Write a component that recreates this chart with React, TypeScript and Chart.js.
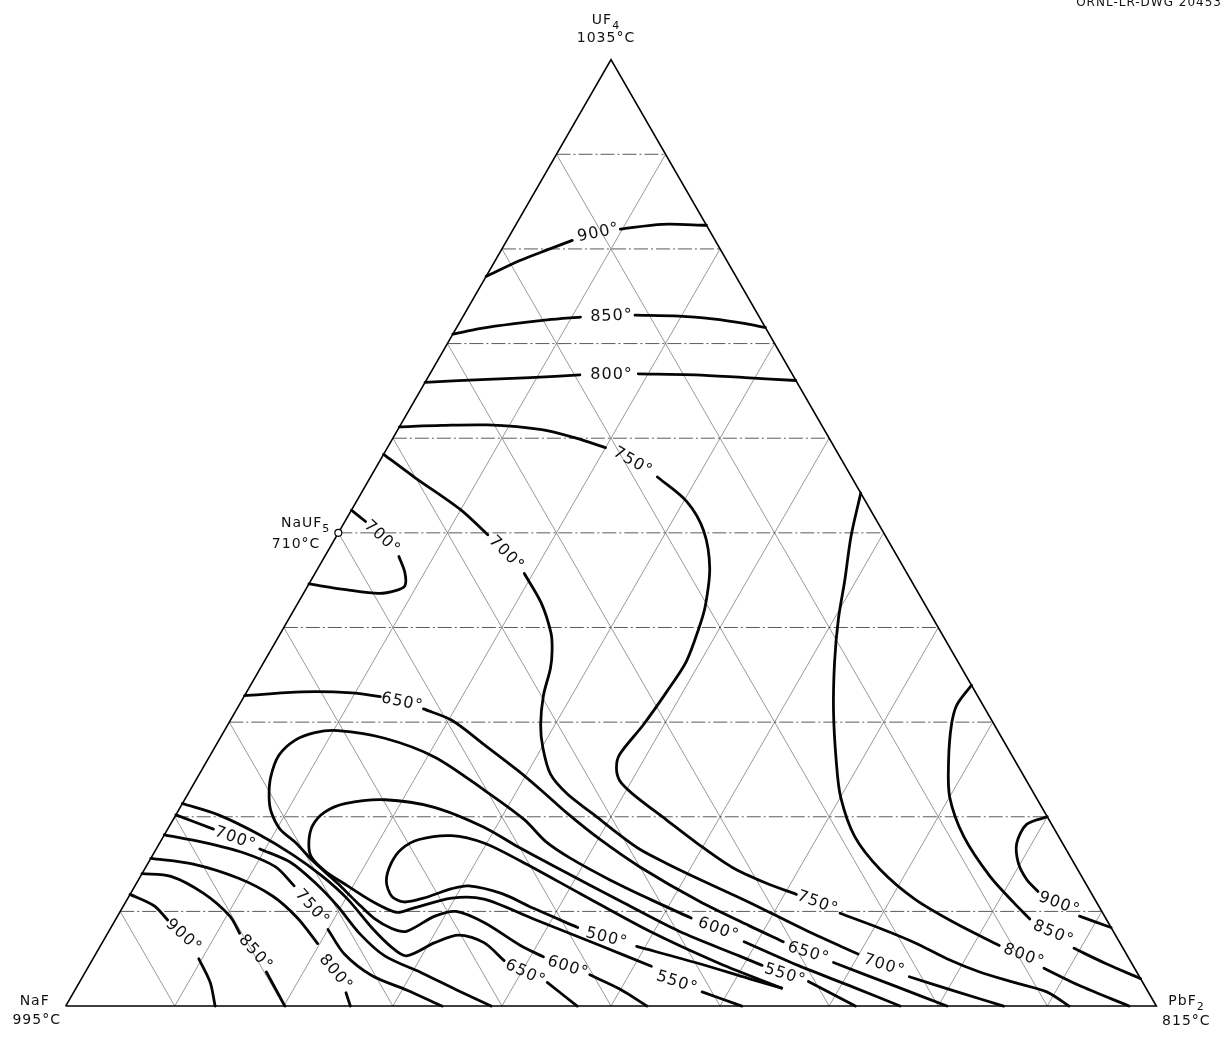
import React, { useEffect, useRef } from "react";
import { Chart, registerables } from "chart.js";

Chart.register(...registerables);

type P = [number, number]; // [mol % PbF2, mol % UF4]

// ---------- data (compositions in mole %) ----------
const GRID_STEPS = [10, 20, 30, 40, 50, 60, 70, 80, 90];
const TRIANGLE: P[] = [[0, 0], [100, 0], [0, 100], [0, 0]];
const NAUF5_POINT: P[] = [[0, 50]];

const ISO_900_TOP: P[][] = [
  [[0, 77.1], [2.3, 78.8], [4.2, 79.9], [6.0, 80.9]],
  [[9.8, 82.1], [13.4, 82.6], [17.5, 82.5]],
];
const ISO_850_TOP: P[][] = [
  [[0, 71.0], [2.3, 71.6], [5.1, 72.1], [7.9, 72.5], [10.8, 72.8]],
  [[15.7, 73.0], [19.8, 72.9], [23.0, 72.6], [26.3, 72.1], [28.3, 71.7]],
];
const ISO_800_TOP: P[][] = [
  [[0, 65.9], [5.0, 66.2], [9.4, 66.4], [13.8, 66.7]],
  [[19.1, 66.8], [24.4, 66.7], [29.1, 66.4], [33.9, 66.1]],
];
const ISO_750_MAIN: P[][] = [
  [[0, 61.2], [3.8, 61.35], [8.0, 61.4], [13.2, 60.9], [16.8, 60.0], [20.0, 59.0]],
  [[26.3, 55.9], [30.3, 53.3], [33.4, 50.2], [35.9, 46.3], [37.5, 42.3], [38.1, 39.9], [38.7, 36.4], [38.5, 33.2], [38.1, 29.7], [37.5, 26.6], [37.9, 25.2], [38.9, 23.8], [40.8, 22.4], [45.2, 19.7], [49.3, 17.2], [53.7, 14.7], [57.7, 13.0], [61.1, 11.8]],
  [[66.1, 9.8], [70.6, 8.2], [74.5, 6.7], [78.3, 5.0], [82.0, 3.6], [85.7, 2.5], [89.2, 1.5], [92.0, 0]],
];
const ISO_700_MAIN: P[][] = [
  [[0, 58.3], [4.0, 55.9], [9.9, 52.5], [13.8, 49.8]],
  [[19.2, 45.7], [22.3, 42.6], [24.8, 39.4], [25.8, 37.6], [26.6, 35.7], [27.4, 32.8], [28.7, 29.7], [30.1, 27.3], [32.2, 24.5], [34.8, 22.4], [38.2, 20.3], [41.4, 18.3], [44.3, 16.6], [47.5, 15.1], [51.4, 13.4], [57.1, 11.0], [64.1, 7.9], [69.9, 5.5]],
  [[75.8, 3.1], [81.0, 1.5], [86.0, 0]],
];
const ISO_700_NAUF5: P[][] = [
  [[0, 52.4], [1.9, 51.2]],
  [[6.8, 47.5], [8.2, 45.8], [8.9, 44.4], [8.3, 43.9], [6.9, 43.6], [3.7, 44.0], [0, 44.6]],
];
const ISO_650_UPPER: P[][] = [
  [[0, 32.8], [5.1, 33.2], [9.7, 33.1], [12.5, 32.7]],
  [[17.1, 31.4], [20.3, 30.2], [24.6, 27.6], [29.0, 24.9], [32.2, 22.8], [35.9, 20.3], [40.2, 17.6], [45.3, 14.7], [52.5, 11.1], [58.4, 8.5], [62.4, 6.8]],
  [[68.1, 4.6], [75.3, 2.0], [80.8, 0]],
];
const ISO_600_LOOP: P[][] = [
  [[53.3, 0], [49.9, 1.8], [46.4, 3.3]],
  [[41.2, 5.2], [38.5, 6.4], [34.0, 8.8], [30.8, 10.0], [29.1, 9.5], [27.3, 7.9], [25.8, 8.2], [23.6, 9.3], [21.3, 10.9], [18.4, 13.0], [14.9, 15.4], [12.4, 17.3], [10.3, 18.7], [8.6, 20.5], [7.6, 22.1], [6.7, 24.2], [6.3, 26.5], [7.0, 28.1], [8.4, 28.9], [10.4, 29.1], [15.1, 28.3], [20.7, 26.3], [27.0, 22.8], [32.2, 19.7], [35.3, 17.4], [38.5, 15.6], [43.3, 13.3], [47.9, 11.3], [52.7, 9.3]],
  [[58.8, 6.8], [65.0, 4.3], [71.2, 2.0], [76.5, 0]],
];
const ISO_550_LOOP: P[][] = [
  [[62.0, 0], [57.6, 1.5]],
  [[51.6, 4.2], [45.8, 6.4], [38.3, 9.2], [32.7, 11.3], [29.7, 11.4], [26.6, 10.3], [25.4, 9.9], [22.5, 11.1], [19.5, 12.7], [16.6, 14.3], [14.6, 15.8], [13.6, 17.4], [13.1, 19.1], [13.5, 20.5], [14.9, 21.4], [18.4, 21.8], [23.3, 21.0], [28.9, 18.9], [33.1, 16.8], [38.2, 14.4], [45.3, 11.1], [52.3, 7.9], [59.1, 5.3], [61.7, 4.3]],
  [[66.8, 2.6], [72.4, 0]],
];
const ISO_500_LOOP: P[][] = [
  [[49.2, 6.3], [55.8, 4.5], [61.2, 2.9], [64.7, 1.9]],
  [[64.7, 1.9], [57.7, 4.5], [49.6, 7.9], [41.2, 11.9], [34.1, 15.3], [29.8, 17.2], [26.4, 18.0], [23.6, 17.6], [22.5, 16.6], [22.3, 15.1], [22.8, 13.2], [24.1, 11.6], [25.5, 11.0], [27.1, 11.4], [29.2, 12.4], [30.6, 12.7], [34.0, 11.9], [37.8, 10.3], [42.8, 8.3]],
];
const ISO_650_LOWER: P[][] = [
  [[0, 21.4], [3.9, 20.2], [8.5, 18.2], [12.8, 16.0], [16.7, 13.7], [20.2, 11.3], [23.9, 8.3], [26.8, 6.2], [28.6, 5.3], [30.5, 6.7], [32.3, 7.5], [35.0, 6.7], [37.8, 4.8]],
  [[42.9, 2.5], [46.9, 0]],
];
const ISO_700_NAF: P[][] = [
  [[0, 20.2], [4.2, 18.7]],
  [[9.5, 16.6], [13.0, 15.2], [16.4, 13.0], [19.6, 10.6], [23.2, 7.6], [26.6, 5.3], [30.9, 3.5], [35.0, 1.7], [39.0, 0]],
];
const ISO_750_NAF: P[][] = [
  [[0, 18.1], [4.0, 17.3], [8.2, 16.2], [11.9, 14.7], [14.6, 12.7]],
  [[20.0, 8.1], [22.8, 5.5], [26.5, 3.2], [30.4, 1.7], [34.5, 0]],
];
const ISO_800_NAF: P[][] = [
  [[0, 15.6], [4.2, 15.0], [9.1, 13.5], [13.2, 11.6], [16.6, 9.3], [19.8, 6.6]],
  [[25.0, 1.4], [26.1, 0]],
];
const ISO_850_NAF: P[][] = [
  [[0, 14.0], [2.8, 13.7], [6.7, 11.9], [10.3, 9.5], [12.1, 7.7]],
  [[16.6, 3.6], [20.1, 0]],
];
const ISO_900_NAF: P[][] = [
  [[0, 11.8], [2.8, 10.6], [4.8, 9.1]],
  [[9.7, 5.0], [12.0, 2.5], [13.7, 0]],
];
const ISO_800_PBF2: P[][] = [
  [[45.8, 54.2], [47.2, 49.6], [48.9, 45.1], [50.4, 40.9], [52.3, 36.4], [54.8, 31.2], [57.7, 25.9], [60.0, 22.1], [63.4, 17.9], [67.5, 14.4], [72.2, 11.3], [77.1, 8.8], [82.4, 6.4]],
  [[87.7, 4.0], [91.8, 2.2], [97.5, 0]],
];
const ISO_850_PBF2: P[][] = [
  [[66.1, 33.9], [65.8, 31.8], [66.4, 29.6], [68.0, 25.9], [70.0, 22.1], [73.4, 17.9], [77.9, 13.7], [81.5, 10.9], [83.8, 9.2]],
  [[89.4, 6.1], [93.1, 4.5], [97.1, 2.9]],
];
const ISO_900_PBF2: P[][] = [
  [[80.0, 20.0], [78.5, 19.2], [78.6, 17.2], [79.8, 15.1], [81.4, 13.4], [83.1, 12.1]],
  [[88.2, 9.5], [91.7, 8.3]],
];

const ISOTHERMS: P[][][] = [
  ISO_900_TOP, ISO_850_TOP, ISO_800_TOP, ISO_750_MAIN, ISO_700_MAIN, ISO_700_NAUF5,
  ISO_650_UPPER, ISO_600_LOOP, ISO_550_LOOP, ISO_500_LOOP, ISO_650_LOWER,
  ISO_700_NAF, ISO_750_NAF, ISO_800_NAF, ISO_850_NAF, ISO_900_NAF,
  ISO_800_PBF2, ISO_850_PBF2, ISO_900_PBF2,
];

// [text, mol % PbF2, mol % UF4, rotation in degrees]
const ISOTHERM_LABELS: [string, number, number, number][] = [
  ["900°", 8.0, 81.7, -12], ["850°", 13.6, 72.9, -2], ["800°", 16.7, 66.7, 0],
  ["750°", 23.25, 57.5, 30], ["700°", 16.5, 47.8, 45], ["700°", 4.25, 49.5, 42],
  ["650°", 14.8, 32.1, 12],
  ["750°", 63.5, 10.9, 20], ["700°", 72.9, 4.3, 17], ["650°", 65.3, 5.6, 17],
  ["600°", 55.8, 8.1, 20], ["550°", 64.3, 3.3, 17], ["500°", 46.0, 7.2, 14],
  ["550°", 54.8, 2.5, 18], ["600°", 44.0, 4.1, 18], ["650°", 40.4, 3.5, 25],
  ["700°", 6.7, 17.7, 20], ["750°", 17.4, 10.4, 48], ["800°", 23.0, 3.5, 50],
  ["850°", 14.6, 5.6, 48], ["900°", 7.1, 7.4, 42],
  ["800°", 85.2, 5.3, 20], ["850°", 86.7, 7.7, 23], ["900°", 85.7, 10.8, 20],
];

const COMPONENTS = ["NaF", "PbF", "UF", "NaUF"];
const COMPONENT_SUBSCRIPTS = ["", "2", "4", "5"];
const MELTING_POINTS = ["995°C", "815°C", "1035°C", "710°C"];
const DRAWING_NUMBER = "ORNL-LR-DWG 20453";

// ---------- layout ----------
const W = 1224;
const H = 1037;
const BASE_LEFT = 61;
const BASE_RIGHT = 1161;
const BASE_Y = 1011;
const APEX_Y = 55;
const PX_PER_X = (BASE_RIGHT - BASE_LEFT) / 100;
const PX_PER_U = (BASE_Y - APEX_Y) / 100;
const X_MIN = -BASE_LEFT / PX_PER_X;
const X_MAX = (W - BASE_LEFT) / PX_PER_X;
const Y_MAX = BASE_Y / PX_PER_U;
const Y_MIN = Y_MAX - H / PX_PER_U;
const FONT = '"DejaVu Sans", sans-serif';

const toXY = ([p, u]: P) => ({ x: p + u / 2, y: u });

function buildDatasets() {
  const ds: any[] = [];
  for (const iso of ISOTHERMS) {
    for (const s of iso) {
      ds.push({
        data: s.map(toXY),
        showLine: true,
        pointRadius: 0,
        borderColor: "#050505",
        borderWidth: 2.8,
        tension: 0.3,
        borderCapStyle: "round",
        borderJoinStyle: "round",
        order: 0,
      });
    }
  }
  ds.push({
    data: NAUF5_POINT.map(toXY),
    showLine: false,
    pointRadius: 3.5,
    pointBackgroundColor: "#fff",
    pointBorderColor: "#000",
    pointBorderWidth: 1.2,
    order: -1,
  });
  ds.push({
    data: TRIANGLE.map(toXY),
    showLine: true,
    pointRadius: 0,
    borderColor: "#000",
    borderWidth: 1.6,
    tension: 0,
    order: 5,
  });
  for (const k of GRID_STEPS) {
    const lines: P[][] = [
      [[0, k], [100 - k, k]],
      [[k, 0], [k, 100 - k]],
      [[100 - k, 0], [0, 100 - k]],
    ];
    lines.forEach((l, i) =>
      ds.push({
        data: l.map(toXY),
        showLine: true,
        pointRadius: 0,
        borderColor: i === 0 ? "rgba(40,40,40,0.85)" : "rgba(60,60,60,0.75)",
        borderWidth: i === 0 ? 0.9 : 0.7,
        borderDash: i === 0 ? [14, 3, 2, 3] : [],
        tension: 0,
        order: 10,
      })
    );
  }
  return ds;
}

const textPlugin = {
  id: "ternaryText",
  afterDatasetsDraw(chart: any) {
    const { ctx, scales } = chart;
    const xs = scales.x;
    const ys = scales.y;
    const pix = (p: number, u: number) => [xs.getPixelForValue(p + u / 2), ys.getPixelForValue(u)];
    ctx.save();
    ctx.fillStyle = "#111";
    ctx.textAlign = "center";
    ctx.textBaseline = "middle";
    ctx.font = `16px ${FONT}`;
    try { ctx.letterSpacing = "1px"; } catch (e) {}
    for (const [t, p, u, a] of ISOTHERM_LABELS) {
      const [x, y] = pix(p, u);
      ctx.save();
      ctx.translate(x, y);
      ctx.rotate((a * Math.PI) / 180);
      ctx.fillText(t, 0, 0);
      ctx.restore();
    }

    const subLabel = (main: string, sub: string, x: number, y: number, align: string) => {
      ctx.font = `14px ${FONT}`;
      const w1 = ctx.measureText(main).width;
      ctx.font = `11px ${FONT}`;
      const w2 = ctx.measureText(sub).width;
      const total = w1 + w2;
      let left = x;
      if (align === "center") left = x - total / 2;
      if (align === "right") left = x - total;
      ctx.textAlign = "left";
      ctx.textBaseline = "alphabetic";
      ctx.font = `14px ${FONT}`;
      ctx.fillText(main, left, y);
      ctx.font = `11px ${FONT}`;
      ctx.fillText(sub, left + w1, y + 5);
    };
    const plain = (txt: string, x: number, y: number, align: string) => {
      ctx.font = `14px ${FONT}`;
      ctx.textAlign = align;
      ctx.textBaseline = "alphabetic";
      ctx.fillText(txt, x, y);
    };
    const [naX, naY] = pix(0, 0);
    const [pbX, pbY] = pix(100, 0);
    const [ufX, ufY] = pix(0, 100);
    const [nuX, nuY] = pix(0, 50);
    subLabel(COMPONENTS[0], COMPONENT_SUBSCRIPTS[0], naX - 31, naY - 1, "center");
    plain(MELTING_POINTS[0], naX - 29, naY + 18, "center");
    subLabel(COMPONENTS[1], COMPONENT_SUBSCRIPTS[1], pbX + 12, pbY - 1, "left");
    plain(MELTING_POINTS[1], pbX + 30, pbY + 19, "center");
    subLabel(COMPONENTS[2], COMPONENT_SUBSCRIPTS[2], ufX - 5, ufY - 36, "center");
    plain(MELTING_POINTS[2], ufX - 5, ufY - 18, "center");
    subLabel(COMPONENTS[3], COMPONENT_SUBSCRIPTS[3], nuX - 8, nuY - 6, "right");
    plain(MELTING_POINTS[3], nuX - 18, nuY + 15, "right");

    ctx.font = `12px ${FONT}`;
    ctx.textAlign = "right";
    ctx.textBaseline = "alphabetic";
    ctx.fillText(DRAWING_NUMBER, W - 2, 6);
    ctx.restore();
  },
};

export default function App() {
  const ref = useRef<HTMLCanvasElement | null>(null);
  useEffect(() => {
    document.body.style.margin = "0";
    const canvas = ref.current;
    if (!canvas) return;
    const chart = new Chart(canvas, {
      type: "scatter",
      data: { datasets: buildDatasets() },
      options: {
        responsive: false,
        animation: false,
        devicePixelRatio: 1,
        events: [],
        layout: { padding: 0 },
        scales: {
          x: { type: "linear", min: X_MIN, max: X_MAX, display: false },
          y: { type: "linear", min: Y_MIN, max: Y_MAX, display: false },
        },
        plugins: { legend: { display: false }, tooltip: { enabled: false } },
      },
      plugins: [textPlugin],
    } as any);
    return () => chart.destroy();
  }, []);
  return (
    <div style={{ width: W, height: H, background: "#fff" }}>
      <canvas ref={ref} width={W} height={H} style={{ display: "block" }} />
    </div>
  );
}
